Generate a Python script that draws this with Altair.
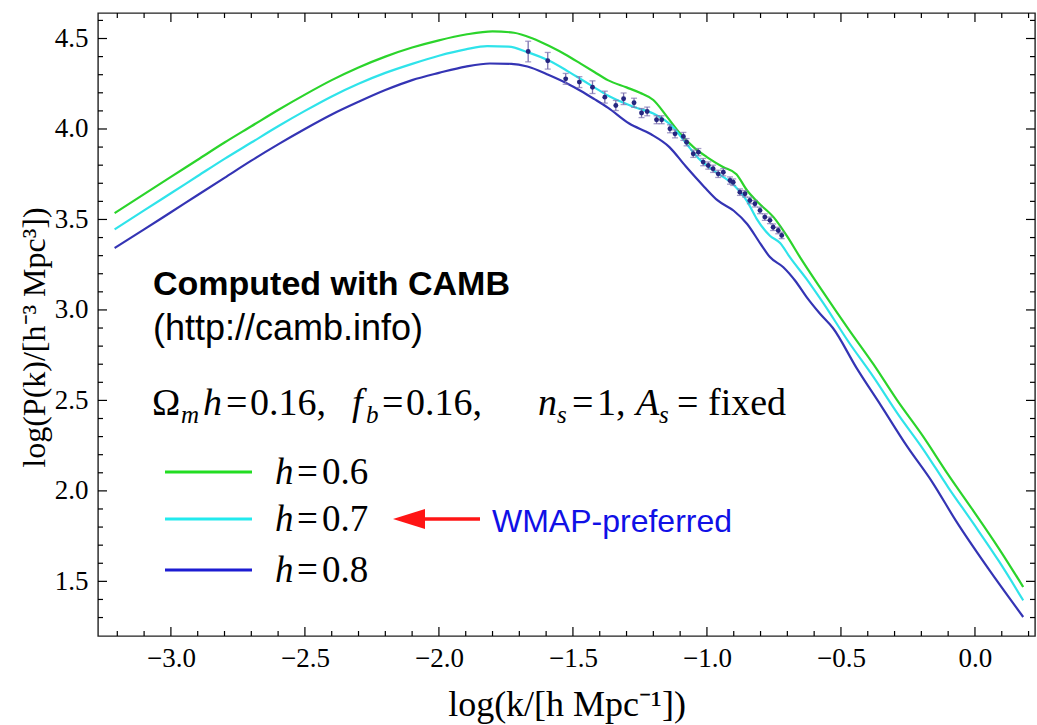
import altair as alt
import pandas as pd

# ---------------- data ----------------
x_h06 = [-3.21, -3.10, -3.00, -2.90, -2.80, -2.70, -2.60, -2.50, -2.40, -2.30, -2.20, -2.10,
         -2.00, -1.90, -1.80, -1.72, -1.65, -1.59, -1.52, -1.47, -1.42, -1.37, -1.30, -1.25,
         -1.20, -1.15, -1.10, -1.05, -1.00, -0.94, -0.89, -0.85, -0.81, -0.75, -0.70, -0.653,
         -0.567, -0.47, -0.379, -0.29, -0.193, -0.10, -0.006, 0.09, 0.18]
y_h06 = [3.535, 3.640, 3.735, 3.830, 3.925, 4.015, 4.105, 4.190, 4.270, 4.340, 4.400, 4.450,
         4.490, 4.522, 4.540, 4.532, 4.500, 4.460, 4.405, 4.360, 4.315, 4.270, 4.230, 4.200,
         4.160, 4.070, 3.975, 3.900, 3.845, 3.790, 3.750, 3.660, 3.595, 3.510, 3.405, 3.292,
         3.100, 2.890, 2.700, 2.500, 2.300, 2.090, 1.890, 1.680, 1.469]

x_h07 = [-3.21, -3.10, -3.00, -2.90, -2.80, -2.70, -2.60, -2.50, -2.40, -2.30, -2.20, -2.10,
         -2.00, -1.90, -1.82, -1.74, -1.67, -1.59, -1.52, -1.47, -1.42, -1.37, -1.32, -1.27,
         -1.20, -1.13, -1.08, -1.03, -0.97, -0.90, -0.85, -0.815, -0.765, -0.727, -0.69,
         -0.628, -0.567, -0.47, -0.379, -0.29, -0.193, -0.10, -0.006, 0.09, 0.18]
y_h07 = [3.445, 3.550, 3.645, 3.740, 3.835, 3.925, 4.015, 4.100, 4.180, 4.250, 4.310, 4.360,
         4.405, 4.440, 4.458, 4.455, 4.425, 4.378, 4.320, 4.275, 4.230, 4.185, 4.150, 4.120,
         4.085, 4.015, 3.925, 3.835, 3.765, 3.690, 3.600, 3.505, 3.410, 3.370, 3.290,
         3.170, 3.040, 2.820, 2.630, 2.430, 2.230, 2.020, 1.820, 1.610, 1.395]

x_h08 = [-3.21, -3.10, -3.00, -2.90, -2.80, -2.70, -2.60, -2.50, -2.40, -2.30, -2.20, -2.10,
         -2.00, -1.90, -1.81, -1.73, -1.67, -1.59, -1.52, -1.47, -1.42, -1.37, -1.29, -1.21,
         -1.14, -1.08, -1.01, -0.96, -0.90, -0.85, -0.80, -0.765, -0.715, -0.67, -0.628,
         -0.578, -0.53, -0.442, -0.35, -0.255, -0.16, -0.069, 0.05, 0.18]
y_h08 = [3.342, 3.445, 3.540, 3.635, 3.730, 3.825, 3.915, 4.000, 4.080, 4.150, 4.215, 4.270,
         4.310, 4.345, 4.362, 4.360, 4.345, 4.298, 4.250, 4.210, 4.165, 4.118, 4.030, 3.972,
         3.900, 3.795, 3.680, 3.605, 3.548, 3.475, 3.365, 3.292, 3.236, 3.160, 3.071,
         2.979, 2.900, 2.680, 2.470, 2.250, 2.050, 1.830, 1.570, 1.303]

series_names = ["h=0.6", "h=0.7", "h=0.8"]
series_colors = ["#2bd42b", "#2fe3ea", "#3434b4"]
legend_colors = ["#22dd22", "#22eaee", "#1c1cd2"]

x_obs = [-1.667, -1.594, -1.527, -1.476, -1.427, -1.381, -1.340, -1.311, -1.272, -1.244,
         -1.223, -1.188, -1.169, -1.138, -1.119, -1.088, -1.076, -1.051, -1.032, -1.014,
         -0.995, -0.977, -0.958, -0.939, -0.914, -0.902, -0.877, -0.858, -0.840, -0.821,
         -0.802, -0.784, -0.765, -0.753, -0.734, -0.721]
y_obs = [4.428, 4.377, 4.277, 4.259, 4.231, 4.176, 4.130, 4.167, 4.145, 4.088,
         4.097, 4.051, 4.051, 4.001, 3.973, 3.959, 3.927, 3.863, 3.872, 3.817,
         3.798, 3.780, 3.752, 3.761, 3.715, 3.706, 3.651, 3.642, 3.605, 3.587,
         3.550, 3.513, 3.495, 3.457, 3.439, 3.412]
e_obs = [0.057, 0.046, 0.030, 0.030, 0.035, 0.033, 0.028, 0.032, 0.025, 0.025,
         0.024, 0.022, 0.022, 0.022, 0.022, 0.022, 0.020, 0.020, 0.020, 0.020,
         0.020, 0.020, 0.020, 0.020, 0.020, 0.018, 0.018, 0.018, 0.018, 0.018,
         0.018, 0.018, 0.018, 0.018, 0.018, 0.018]

x_major = [-3.0, -2.5, -2.0, -1.5, -1.0, -0.5, 0.0]
x_minor = [-3.2, -3.1, -2.9, -2.8, -2.7, -2.6, -2.4, -2.3, -2.2, -2.1, -1.9, -1.8, -1.7, -1.6,
           -1.4, -1.3, -1.2, -1.1, -0.9, -0.8, -0.7, -0.6, -0.4, -0.3, -0.2, -0.1, 0.1, 0.2]
y_major = [1.5, 2.0, 2.5, 3.0, 3.5, 4.0, 4.5]
y_minor = [1.3, 1.4, 1.6, 1.7, 1.8, 1.9, 2.1, 2.2, 2.3, 2.4, 2.6, 2.7, 2.8, 2.9, 3.1, 3.2,
           3.3, 3.4, 3.6, 3.7, 3.8, 3.9, 4.1, 4.2, 4.3, 4.4, 4.6]

# ---------------- layout ----------------
W, H = 937, 623
LEFT, TOP = 98, 13
XDOM = [-3.272, 0.224]
YDOM = [1.198, 4.641]
SERIF = "Liberation Serif"
SANS = "Liberation Sans"


def X(field):
    return alt.X(field, type="quantitative",
                 scale=alt.Scale(domain=XDOM, nice=False, zero=False),
                 axis=alt.Axis(values=x_major, format=".1f", ticks=False, domain=False, grid=False,
                               labelFont=SERIF, labelFontSize=27, labelColor="black",
                               labelPadding=9, title="log(k/[h Mpc\u207b\u00b9])",
                               titleFont=SERIF, titleFontSize=36, titleFontWeight="normal",
                               titleColor="black", titleY=79, titleBaseline="alphabetic"))


def Y(field):
    return alt.Y(field, type="quantitative",
                 scale=alt.Scale(domain=YDOM, nice=False, zero=False),
                 axis=alt.Axis(values=y_major, format=".1f", ticks=False, domain=False, grid=False,
                               labelFont=SERIF, labelFontSize=27, labelColor="black",
                               labelPadding=10, title="log(P(k)/[h\u207b\u00b3 Mpc\u00b3])",
                               titleFont=SERIF, titleFontSize=32, titleFontWeight="normal",
                               titleColor="black", titleX=-54, titleY=324,
                               titleBaseline="alphabetic"))


rows = []
for name, xs, ys in zip(series_names, [x_h06, x_h07, x_h08], [y_h06, y_h07, y_h08]):
    for a, b in zip(xs, ys):
        rows.append({"series": name, "x": a, "y": b})
curves_df = pd.DataFrame(rows)

obs_df = pd.DataFrame({"x": x_obs, "y": y_obs, "e": e_obs})
obs_df["lo"] = obs_df["y"] - obs_df["e"]
obs_df["hi"] = obs_df["y"] + obs_df["e"]

one = pd.DataFrame({"a": [0]})

curves = alt.Chart(curves_df).mark_line(strokeWidth=2.2, interpolate="monotone").encode(
    x=X("x"), y=Y("y"),
    color=alt.Color("series:N", scale=alt.Scale(domain=series_names, range=series_colors), legend=None),
    detail="series:N",
)

ERR_C = "#7d72b0"
err_rule = alt.Chart(obs_df).mark_rule(color=ERR_C, strokeWidth=1.3).encode(
    x=X("x"), y=Y("lo"), y2="hi")
err_lo = alt.Chart(obs_df).mark_tick(color=ERR_C, orient="horizontal", size=6, thickness=1.3).encode(
    x=X("x"), y=Y("lo"))
err_hi = alt.Chart(obs_df).mark_tick(color=ERR_C, orient="horizontal", size=6, thickness=1.3).encode(
    x=X("x"), y=Y("hi"))
pts = alt.Chart(obs_df).mark_circle(color="#262680", size=24, opacity=1).encode(x=X("x"), y=Y("y"))


def xticks(vals, length):
    d = pd.DataFrame({"x": vals})
    bottom = alt.Chart(d).mark_rule(color="black", strokeWidth=1.2).encode(
        x=X("x"), y=alt.value(H), y2=alt.value(H - length))
    top = alt.Chart(d).mark_rule(color="black", strokeWidth=1.2).encode(
        x=X("x"), y=alt.value(0), y2=alt.value(length))
    return [bottom, top]


def yticks(vals, length):
    d = pd.DataFrame({"y": vals})
    left = alt.Chart(d).mark_rule(color="black", strokeWidth=1.2).encode(
        y=Y("y"), x=alt.value(0), x2=alt.value(length))
    right = alt.Chart(d).mark_rule(color="black", strokeWidth=1.2).encode(
        y=Y("y"), x=alt.value(W), x2=alt.value(W - length))
    return [left, right]


tick_layers = xticks(x_major, 9) + xticks(x_minor, 5) + yticks(y_major, 9) + yticks(y_minor, 5)


def txt(s, ax, ay, size, font=SERIF, style="normal", weight="normal", color="black"):
    return alt.Chart(one).mark_text(
        text=s, align="left", baseline="alphabetic", font=font, fontSize=size,
        fontStyle=style, fontWeight=weight, color=color,
    ).encode(x=alt.value(ax - LEFT), y=alt.value(ay - TOP))


texts = [
    txt("Computed with CAMB", 153, 295, 34, font=SANS, weight="bold"),
    txt("(http://camb.info)", 153, 340, 36, font=SANS),
]

BL = 415
FS = 38
SUB = 25
pieces = [
    ("\u03a9", 152, 0, FS, "normal"), ("m", 181, 8, SUB, "italic"), ("h", 203, 0, FS, "italic"),
    ("=", 226, 0, FS, "normal"), ("0.16,", 250, 0, FS, "normal"),
    ("f", 352, 0, FS, "italic"), ("b", 366, 8, SUB, "italic"), ("=", 382, 0, FS, "normal"),
    ("0.16,", 406, 0, FS, "normal"),
    ("n", 538, 0, FS, "italic"), ("s", 557, 8, SUB, "italic"), ("=", 572, 0, FS, "normal"),
    ("1,", 597, 0, FS, "normal"),
    ("A", 636, 0, FS, "italic"), ("s", 659, 8, SUB, "italic"), ("=", 677, 0, FS, "normal"),
    ("fixed", 708, 0, FS, "normal"),
]
for s, px, dy, sz, st in pieces:
    texts.append(txt(s, px, BL + dy, sz, style=st))

legend_y = [472, 519, 570]
legend_vals = ["0.6", "0.7", "0.8"]
legend_layers = []
for ly, val, col in zip(legend_y, legend_vals, legend_colors):
    legend_layers.append(alt.Chart(one).mark_rule(color=col, strokeWidth=3).encode(
        x=alt.value(165 - LEFT), x2=alt.value(252 - LEFT), y=alt.value(ly - TOP)))
    legend_layers.append(txt("h", 275, ly + 12, 37, style="italic"))
    legend_layers.append(txt("=", 297, ly + 12, 37))
    legend_layers.append(txt(val, 322, ly + 12, 37))

arrow = [
    alt.Chart(one).mark_rule(color="#ff1515", strokeWidth=3.5).encode(
        x=alt.value(420 - LEFT), x2=alt.value(480 - LEFT), y=alt.value(519 - TOP)),
    alt.Chart(one).mark_point(shape="M-1,0L1,-0.62L1,0.62Z", filled=True, size=1024,
                              color="#ff1515", opacity=1, strokeWidth=0).encode(
        x=alt.value(409 - LEFT), y=alt.value(519 - TOP)),
    txt("WMAP-preferred", 492, 532, 32, font=SANS, color="#1010e6"),
]

chart = alt.layer(
    *tick_layers, curves, err_rule, err_lo, err_hi, pts, *texts, *legend_layers, *arrow
).properties(
    width=W, height=H,
    padding={"left": LEFT, "top": TOP, "right": 2, "bottom": 725 - TOP - H},
    autosize=alt.AutoSizeParams(type="none"),
    background="white",
).configure_view(stroke="#222222", strokeWidth=1.4)

chart.save("out.html", embed_options={"renderer": "svg", "actions": False})
